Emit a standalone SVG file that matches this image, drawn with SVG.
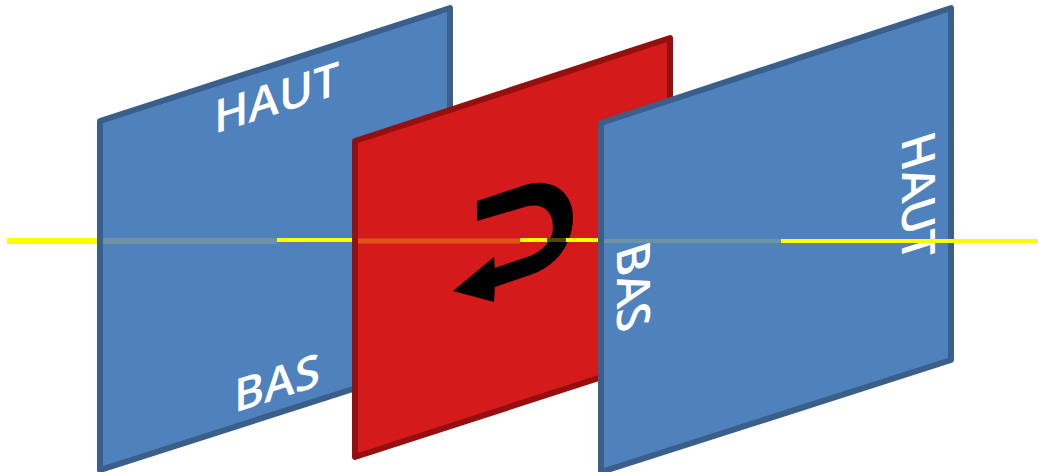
<svg xmlns="http://www.w3.org/2000/svg" width="1038" height="472" viewBox="0 0 1038 472">
<style>
.blue{fill:#4f81bd;stroke:#3a5f8b;stroke-width:6;stroke-linejoin:round}
.red{fill:#d41a1a;stroke:#960f0f;stroke-width:6;stroke-linejoin:round}
.lbl{font-family:"Open Sans",sans-serif;font-size:46px;font-weight:600;fill:#fff}
.y{stroke:#ffff00;fill:none}
</style>
<rect width="1038" height="472" fill="#fff"/>
<g id="plane-left">
<polygon class="blue" points="100,121 450,8 450,358 100,470"/>
<text class="lbl" transform="matrix(1 -0.32 0 1 214 134)">HAUT</text>
<text class="lbl" transform="matrix(1 -0.32 0 1 234 413)">BAS</text>
</g>
<g id="plane-middle">
<polygon class="red" points="355,141 670,38 670,355 355,457"/>
<path id="rotation-arrow" fill="#000" d="M477,201 L525,185 C552,177 573,192 573,217 C573,248 552,268 530,275 L495,287 L494,302 L453,291 L494,257 L495,268 L527,257 C543,252 553,240 553,227 C553,211 543,203 528,206 L477,221 Z"/>
</g>
<g id="plane-right">
<polygon class="blue" points="601,123 951,8 951,360 601,472"/>
<text class="lbl" transform="matrix(0 1 -1 0.32 902 139)">HAUT</text>
<text class="lbl" transform="matrix(0 1 -1 0.32 617 249)">BAS</text>
</g>
<g id="connectors">
<line class="y" x1="7" y1="241" x2="97" y2="241" stroke-width="6"/>
<line x1="103" y1="241" x2="277" y2="241" stroke="#6c93a3" stroke-width="6"/>
<line class="y" x1="277" y1="240" x2="352" y2="240" stroke-width="4"/>
<line x1="358" y1="241" x2="520" y2="241" stroke="#e05515" stroke-width="5"/>
<line class="y" x1="520" y1="240" x2="547" y2="240" stroke-width="4"/>
<line x1="547" y1="240" x2="566" y2="240" stroke="#4a4a00" stroke-width="4"/>
<line class="y" x1="566" y1="240" x2="598" y2="240" stroke-width="4"/>
<line x1="604" y1="241" x2="781" y2="241" stroke="#6c93a3" stroke-width="4"/>
<line class="y" x1="781" y1="241" x2="1038" y2="241" stroke-width="4"/>
</g>
</svg>
